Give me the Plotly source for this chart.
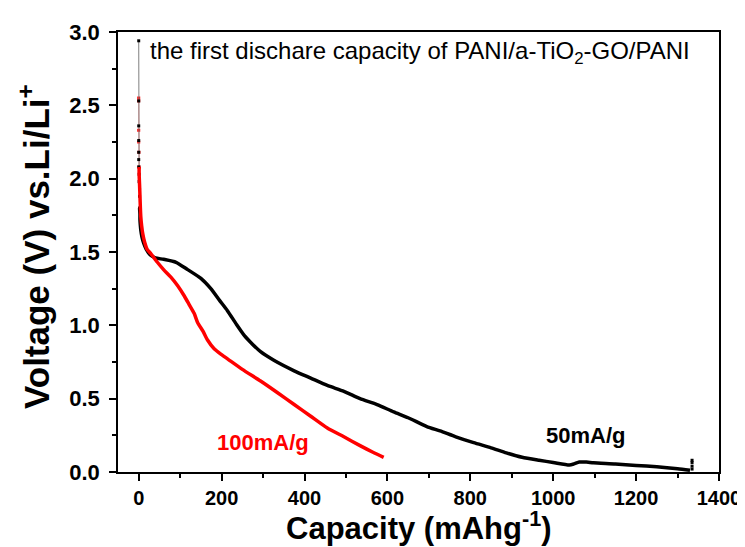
import plotly.graph_objects as go

# 50 mA/g (black) - initial spike portion (sparse points)
black_spike_x = [0, 0, 0, 0, 0, 0, 0, 1, 1, 2, 2, 2]
black_spike_v = [2.94, 2.53, 2.36, 2.26, 2.18, 2.13, 2.08, 2.03, 1.98, 1.93, 1.88, 1.80]
# 50 mA/g main curve
black_x = [2, 3, 3, 4, 5, 8, 12, 18, 28, 40, 60, 90, 118, 150, 174, 195, 214, 235, 255, 275, 294, 327,
           375, 415, 455, 495, 534, 575, 615, 650, 695, 727, 765, 808, 850, 887, 925, 966, 1000, 1039,
           1050, 1063, 1080, 1097, 1150, 1200, 1250, 1300, 1330]
black_v = [1.80, 1.76, 1.72, 1.68, 1.65, 1.60, 1.56, 1.52, 1.48, 1.46, 1.45, 1.43, 1.38, 1.32, 1.25, 1.17,
           1.10, 1.01, 0.93, 0.87, 0.82, 0.76, 0.69, 0.64, 0.59, 0.55, 0.50, 0.46, 0.41, 0.37, 0.31, 0.28,
           0.24, 0.20, 0.165, 0.13, 0.10, 0.08, 0.065, 0.048, 0.055, 0.068, 0.068, 0.063, 0.055, 0.045,
           0.035, 0.022, 0.012]
# start of charge at end of 50 mA/g
black_end_x = [1335, 1335, 1335, 1335]
black_end_v = [0.02, 0.04, 0.065, 0.08]

# 100 mA/g (red) spike portion
red_spike_x = [0, 0, 0, 0, 0.5, 1]
red_spike_v = [2.55, 2.53, 2.33, 2.25, 2.18, 2.08]
# 100 mA/g main curve
red_x = [1, 1, 2, 3, 4, 5, 7, 10, 14, 20, 29, 45, 60, 77, 94, 110, 122, 134, 142, 155, 166, 182, 200,
         215, 250, 294, 335, 375, 415, 455, 495, 534, 565, 591]
red_v = [2.08, 2.03, 1.96, 1.88, 1.80, 1.74, 1.68, 1.62, 1.57, 1.52, 1.49, 1.43, 1.38, 1.33, 1.27, 1.20,
         1.14, 1.08, 1.02, 0.96, 0.90, 0.84, 0.80, 0.77, 0.70, 0.62, 0.54, 0.46, 0.38, 0.30, 0.24, 0.18,
         0.135, 0.10]

x_ticks = [0, 200, 400, 600, 800, 1000, 1200, 1400]
y_ticks = [0.0, 0.5, 1.0, 1.5, 2.0, 2.5, 3.0]

FONT = "Arial, Liberation Sans, sans-serif"

fig = go.Figure()
fig.add_trace(go.Scatter(x=red_spike_x, y=red_spike_v, mode="lines+markers",
                         line=dict(color="rgba(255,80,80,0.6)", width=1),
                         marker=dict(color="red", symbol="square", size=3)))
fig.add_trace(go.Scatter(x=black_spike_x, y=black_spike_v, mode="lines+markers",
                         line=dict(color="gray", width=1),
                         marker=dict(color="black", symbol="square", size=3)))
fig.add_trace(go.Scatter(x=black_x, y=black_v, mode="lines", line_shape="spline",
                         line=dict(color="black", width=3.5, smoothing=0.6)))
fig.add_trace(go.Scatter(x=red_x, y=red_v, mode="lines", line_shape="spline",
                         line=dict(color="red", width=3.5, smoothing=0.6)))
fig.add_trace(go.Scatter(x=black_end_x, y=black_end_v, mode="markers",
                         marker=dict(color="black", symbol="square", size=3)))

axis_common = dict(showline=True, linecolor="black", linewidth=1.5, mirror=True,
                   ticks="outside", ticklen=7, tickwidth=1.5, tickcolor="black",
                   showgrid=False, zeroline=False)

fig.update_xaxes(range=[-50, 1400], tickvals=x_ticks, ticktext=[str(v) for v in x_ticks],
                 tickfont=dict(family=FONT, size=20, color="black", weight="bold"),
                 minor=dict(ticks="outside", ticklen=4, tickwidth=1.5, tickcolor="black", dtick=100,
                            tick0=0),
                 **axis_common)
fig.update_yaxes(range=[0, 3], tickvals=y_ticks, ticktext=["%.1f" % v for v in y_ticks],
                 tickfont=dict(family=FONT, size=22, color="black", weight="bold"),
                 ticklabelstandoff=5,
                 minor=dict(ticks="outside", ticklen=4, tickwidth=1.5, tickcolor="black", dtick=0.25,
                            tick0=0),
                 **axis_common)

annotations = [
    dict(text="the first dischare capacity of PANI/a-TiO<sub>2</sub>-GO/PANI", x=22, y=2.86,
         xref="x", yref="y", xanchor="left", yanchor="middle", showarrow=False,
         font=dict(family=FONT, size=24, color="black")),
    dict(text="<b>100mA/g</b>", x=300, y=0.20, xref="x", yref="y", showarrow=False,
         font=dict(family=FONT, size=22, color="red")),
    dict(text="<b>50mA/g</b>", x=1078, y=0.25, xref="x", yref="y", showarrow=False,
         font=dict(family=FONT, size=22, color="black")),
    dict(text="<b>Capacity (mAhg<sup>-1</sup>)</b>", x=0.5, y=0, xref="paper", yref="paper",
         xanchor="center", yanchor="middle", yshift=-54, showarrow=False,
         font=dict(family=FONT, size=31, color="black")),
    dict(text="<b>Voltage (V) vs.Li/Li<sup>+</sup></b>", x=0, y=0.5, xref="paper", yref="paper",
         xanchor="center", yanchor="middle", xshift=-84, yshift=5, textangle=-90, showarrow=False,
         font=dict(family=FONT, size=35, color="black")),
]

fig.update_layout(width=745, height=547, margin=dict(l=110, r=32, t=21, b=83),
                  plot_bgcolor="white", paper_bgcolor="white", showlegend=False,
                  annotations=annotations)

fig.write_html("out.html")
